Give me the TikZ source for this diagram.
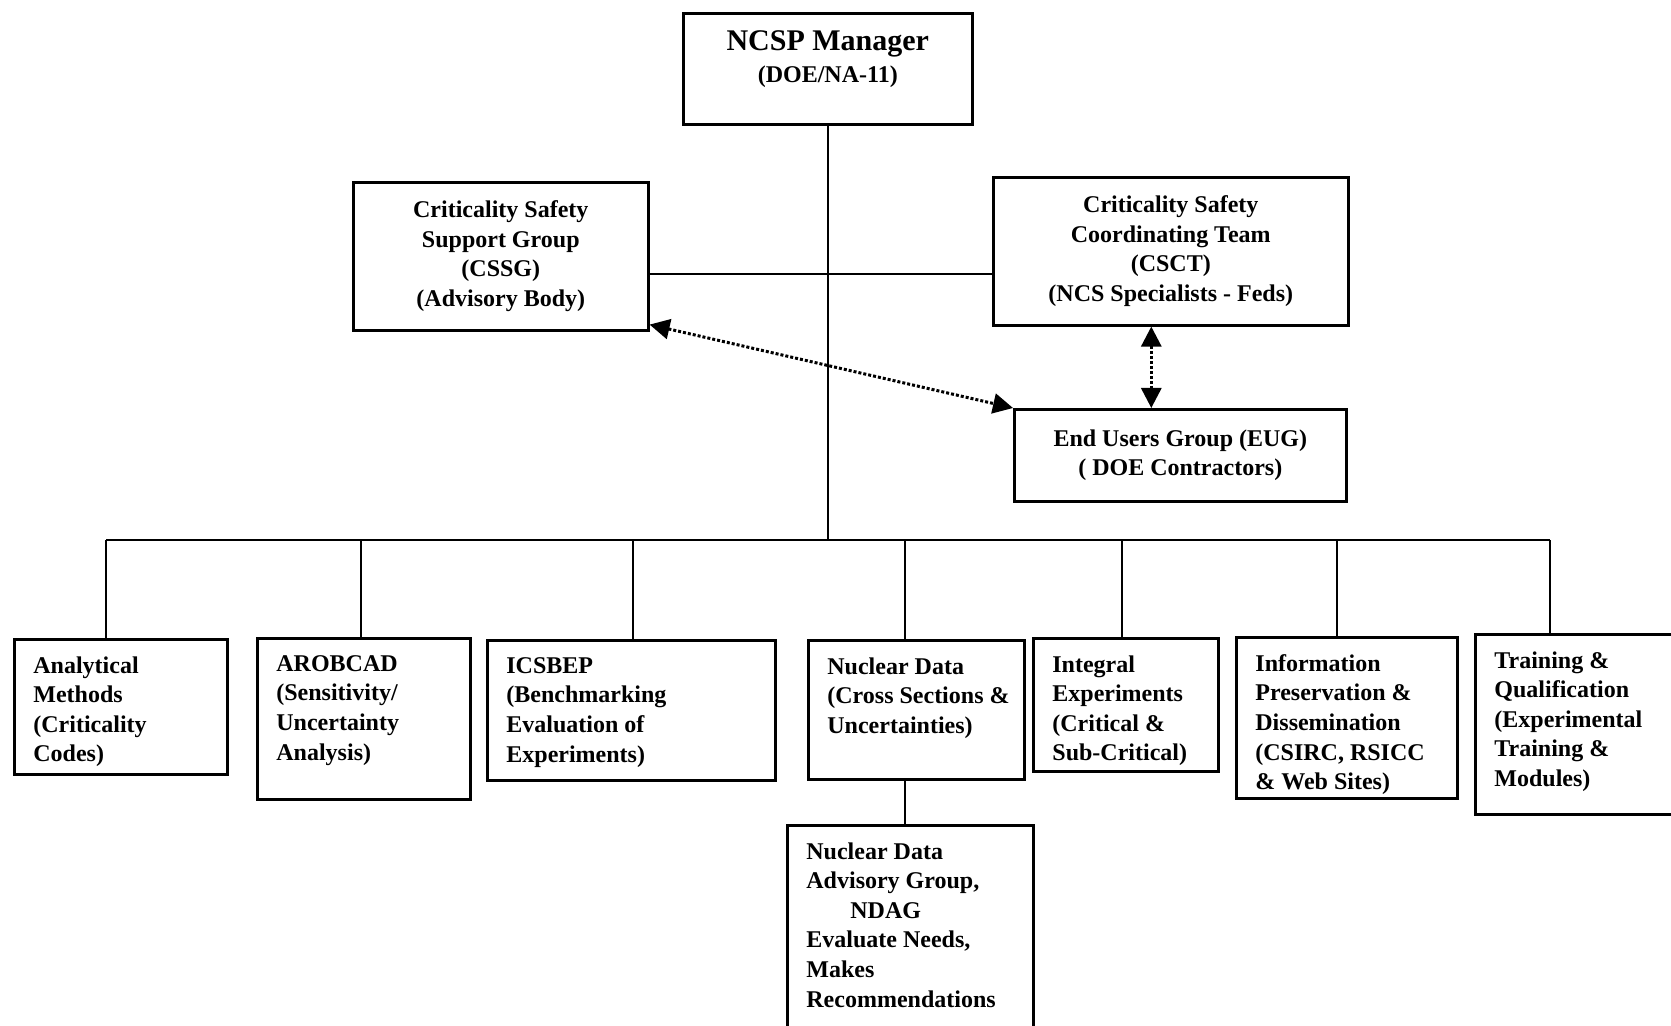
\documentclass[tikz,border=0pt]{standalone}
\usepackage{fontspec}
\setmainfont{Liberation Serif}
\usepackage{tikz}
\usetikzlibrary{arrows.meta,positioning}
\newcommand{\orgfont}{\bfseries\fontsize{12}{14.8}\selectfont}
\tikzset{
  box/.style={draw, line width=1.3pt, anchor=north west, align=center,
    inner sep=0pt, font=\orgfont},
  leaf/.style={draw, line width=1.3pt, anchor=north west, inner sep=0pt},
  lbl/.style={anchor=north west, align=left, inner xsep=10pt, inner ysep=9pt,
    font=\orgfont},
  line/.style={line width=1.1pt},
  dotarr/.style={{Triangle[length=10pt,width=10pt]}-{Triangle[length=10pt,width=10pt]},
    densely dotted, line width=1.5pt}
}

\begin{document}
\begin{tikzpicture}[x=0.5pt, y=-0.5pt]
\useasboundingbox (0,0) rectangle (1671,1026);

% top level
\node[box, minimum width=144.5pt, minimum height=55.5pt,
  label={[lbl, anchor=north, align=center, inner ysep=9pt]north:{{\fontsize{15}{17}\selectfont NCSP Manager}\\[1.2pt](DOE/NA-11)}}]
  (mgr) at (682,12) {};
\node[box, minimum width=147.5pt, minimum height=74pt] (cssg) at (352,181)
  {Criticality Safety\\Support Group\\(CSSG)\\(Advisory Body)};
\node[box, minimum width=177.5pt, minimum height=74pt] (csct) at (992,176)
  {Criticality Safety\\Coordinating Team\\(CSCT)\\(NCS Specialists - Feds)};
\node[box, minimum width=166pt, minimum height=46pt] (eug) at (1013,408)
  {End Users Group (EUG)\\( DOE Contractors)};

% program elements
\node[leaf, minimum width=106.5pt, minimum height=67.5pt,
  label={[lbl]north west:{Analytical\\Methods\\(Criticality\\Codes)}}] (ana) at (13,638) {};
\node[leaf, minimum width=106.5pt, minimum height=80.5pt,
  label={[lbl]north west:{AROBCAD\\(Sensitivity/\\Uncertainty\\Analysis)}}] (aro) at (256,637) {};
\node[leaf, minimum width=144pt, minimum height=70pt,
  label={[lbl]north west:{ICSBEP\\(Benchmarking\\Evaluation of\\Experiments)}}] (ics) at (486,639) {};
\node[leaf, minimum width=108pt, minimum height=69.5pt,
  label={[lbl]north west:{Nuclear Data\\(Cross Sections \&\\Uncertainties)}}] (nuc) at (807,639) {};
\node[leaf, minimum width=92.5pt, minimum height=66.5pt,
  label={[lbl]north west:{Integral\\Experiments\\(Critical \&\\Sub-Critical)}}] (int) at (1032,637) {};
\node[leaf, minimum width=110.5pt, minimum height=80.5pt,
  label={[lbl]north west:{Information\\Preservation \&\\Dissemination\\(CSIRC, RSICC\\\& Web Sites)}}] (inf) at (1235,636) {};
\node[leaf, minimum width=100pt, minimum height=90pt,
  label={[lbl]north west:{Training \&\\Qualification\\(Experimental\\Training \&\\Modules)}}] (trn) at (1474,633) {};
\node[leaf, minimum width=123pt, minimum height=105pt,
  label={[lbl]north west:{Nuclear Data\\Advisory Group,\\\hspace*{22pt}NDAG\\Evaluate Needs,\\Makes\\Recommendations}}] (ndg) at (786,824) {};

% connectors
\coordinate (busL) at (106,540);
\coordinate (busR) at (1550,540);
\draw[line] (mgr.south) -- (mgr.south |- busL);
\draw[line] (busL) -- (busR);
\draw[line] ([yshift=-9pt]cssg.east) -- ([yshift=-9pt]cssg.east -| csct.west);
\foreach \n/\x in {ana/106, aro/361, ics/633, nuc/905, int/1122, inf/1337, trn/1550}
  \draw[line] (\x,540) -- (\n.north -| \x,540);
\draw[line] (nuc.south -| 905,540) -- (ndg.north -| 905,540);

\draw[dotarr] ([yshift=3.5pt]cssg.south east) -- (eug.north west);
\draw[dotarr] ([xshift=-9.75pt]csct.south) -- ([xshift=-9.75pt]csct.south |- eug.north);
\end{tikzpicture}
\end{document}
